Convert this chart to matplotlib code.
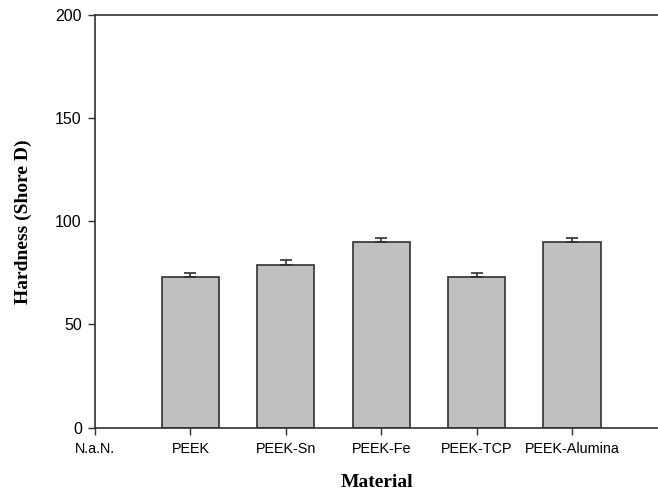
import matplotlib.pyplot as plt
import numpy as np

categories = ['N.a.N.', 'PEEK', 'PEEK-Sn', 'PEEK-Fe', 'PEEK-TCP', 'PEEK-Alumina']
hardness = [np.nan, 73, 79, 90, 73, 90]
errors = [0, 2, 2, 2, 2, 2]

plt.rcParams['font.family'] = ['Liberation Sans', 'DejaVu Sans']

fig = plt.figure(figsize=(6.58, 4.95), dpi=100)
ax = fig.add_axes([95 / 658, 1 - 427.5 / 495, 1 - 95 / 658, (427.5 - 15) / 495])

x = np.arange(len(categories))
ax.bar(x, hardness, width=0.6, color='#c0c0c0', edgecolor='#303030', linewidth=1.2)
ax.errorbar(x[1:], hardness[1:], yerr=[np.zeros(5), errors[1:]], fmt='none',
            ecolor='#303030', elinewidth=1.2, capsize=4.5, capthick=1.2)

ax.set_xlim(0, 5.9)
ax.set_ylim(0, 200)
ax.set_yticks([0, 50, 100, 150, 200])
ax.set_xticks(x)
ax.set_xticklabels(categories)
ax.tick_params(direction='out', length=5, width=1, colors='#303030', labelcolor='black')
ax.tick_params(axis='y', labelsize=11.5, pad=4.5)
ax.tick_params(axis='x', labelsize=10.4, pad=5.5)
ax.spines['right'].set_visible(False)
for s in ['left', 'top', 'bottom']:
    ax.spines[s].set_color('#303030')
    ax.spines[s].set_linewidth(1.2)

ax.set_xlabel('Material', family='Liberation Serif', fontweight='bold', fontsize=14, labelpad=13)
ax.set_ylabel('Hardness (Shore D)', family='Liberation Serif', fontweight='bold', fontsize=14, labelpad=17)

fig.savefig('out.png', dpi=100)
